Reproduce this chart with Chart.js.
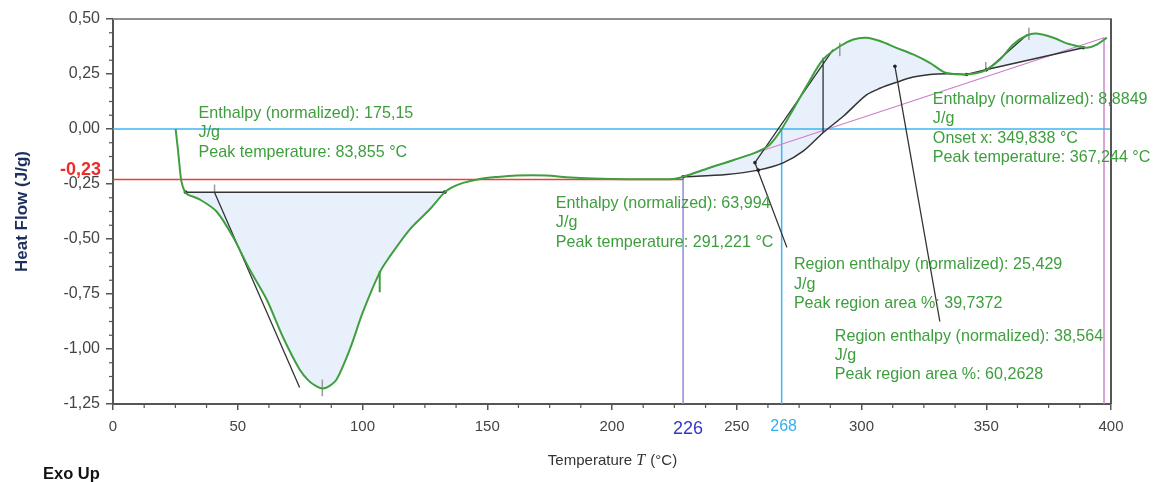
<!DOCTYPE html>
<html><head><meta charset="utf-8">
<script src="https://cdn.jsdelivr.net/npm/chart.js@4.4.0/dist/chart.umd.min.js"></script>
<style>html,body{margin:0;padding:0;background:#fff;}#wrap{width:1163px;height:482px;}</style>
</head><body><div id="wrap"><canvas id="c" width="1163" height="482"></canvas></div>
<script>
// ---- DATA ----
const heatT = [25.1,25.5,26.0,26.7,27.4,28.7,30.0,34.7,41.5,48.0,54.8,61.6,68.0,74.8,78.5,81.6,84.0,86.5,89.6,94.9,100.1,106.9,110.9,118.9,126.9,133.0,136.5,140.3,147.0,153.7,161.7,173.7,181.8,192.4,207.1,224.5,228.5,239.2,248.5,257.9,263.3,268.0,272.6,278.0,284.6,291.3,296.7,302.0,307.4,314.0,320.7,327.4,331.4,334.1,342.1,347.5,350.2,355.5,360.8,366.2,370.2,376.9,382.3,387.6,390.3,394.3,398.3];
const heatV = [0.0,-0.04,-0.09,-0.17,-0.237,-0.283,-0.298,-0.32,-0.375,-0.489,-0.639,-0.775,-0.943,-1.093,-1.145,-1.170,-1.18,-1.17,-1.139,-1.002,-0.834,-0.652,-0.58,-0.457,-0.366,-0.287,-0.262,-0.245,-0.227,-0.218,-0.211,-0.211,-0.219,-0.225,-0.228,-0.227,-0.217,-0.176,-0.142,-0.105,-0.07,0.0,0.089,0.195,0.316,0.376,0.407,0.415,0.40,0.369,0.339,0.301,0.27,0.255,0.248,0.258,0.27,0.316,0.384,0.425,0.434,0.415,0.389,0.374,0.369,0.384,0.415];
const peak1BaseT = [29.1, 133.0];
const peak1BaseV = [-0.287, -0.287];
const sigBaseT = [228.5,245.9,258.6,268.6,276.6,284.6,292.7,302.0,307.4,314.0,320.7,327.4,334.1,342.1];
const sigBaseV = [-0.217,-0.207,-0.187,-0.154,-0.101,-0.017,0.058,0.155,0.185,0.212,0.236,0.248,0.251,0.248];
const linBaseT = [342.1,350.2,388.9];
const linBaseV = [0.248,0.27,0.369];
const purpleT = [228.5, 397.2];
const purpleV = [-0.217, 0.415];
const refZeroV = 0;
const refRedV = -0.23;
const refRedEndT = 228.5;
const markerT = [228.5, 268.0, 397.2];
const markerTopV = [-0.217, 0.0, 0.415];
const markerLabels = ['226', '268', ''];
const segX1 = [40.7, 257.3, 257.3, 284.6, 313.4, 349.8, 106.9];
const segY1 = [-0.289, -0.153, -0.153, 0.324, 0.285, 0.262, -0.646];
const segX2 = [74.8, 288.6, 270.1, 284.6, 331.4, 366.5, 106.9];
const segY2 = [-1.175, 0.361, -0.538, -0.017, -0.875, 0.43, -0.742];
const segColorKind = ['k','k','k','k','k','k','g'];
const peakTickT = [83.9, 40.7, 291.3, 367.1, 349.8];
const peakTickTop = [-1.139, -0.252, 0.392, 0.46, 0.304];
const peakTickBot = [-1.215, -0.29, 0.331, 0.404, 0.267];
const dotT = [29.1, 133.0, 228.5, 258.6, 342.1, 350.2, 388.9, 313.4, 257.3];
const dotV = [-0.287, -0.287, -0.217, -0.187, 0.248, 0.27, 0.369, 0.285, -0.153];
const xTickValues = [0, 50, 100, 150, 200, 250, 300, 350, 400];
const yTickValues = [-1.25, -1.0, -0.75, -0.5, -0.25, 0.0, 0.25, 0.5];
const refLabel = '-0,23';
const annotationTexts = [
  ['Enthalpy (normalized): 175,15', 'J/g', 'Peak temperature: 83,855 °C'],
  ['Enthalpy (normalized): 63,994', 'J/g', 'Peak temperature: 291,221 °C'],
  ['Region enthalpy (normalized): 25,429', 'J/g', 'Peak region area %: 39,7372'],
  ['Region enthalpy (normalized): 38,564', 'J/g', 'Peak region area %: 60,2628'],
  ['Enthalpy (normalized): 8,8849', 'J/g', 'Onset x: 349,838 °C', 'Peak temperature: 367,244 °C']
];
const annotationAnchorT = [34.3, 177.5, 272.9, 289.3, 328.6];
const annotationAnchorV = [0.0705, -0.339, -0.618, -0.943, 0.134];

// ---- helpers ----
const P = (ts, vs) => ts.map((t, i) => ({x: t, y: vs[i]}));
const curvePts = P(heatT, heatV);
const fill1 = [{x: peak1BaseT[0], y: peak1BaseV[0]}, ...curvePts.filter(p => p.x > peak1BaseT[0] && p.x < peak1BaseT[1]), {x: peak1BaseT[1], y: peak1BaseV[1]}];
const sigPts = P(sigBaseT, sigBaseV);
const fill2 = [...curvePts.filter(p => p.x >= sigBaseT[0] && p.x <= sigBaseT[sigBaseT.length - 1]), ...sigPts.slice().reverse()];
const linPts = P(linBaseT, linBaseV);
const fill3 = [...curvePts.filter(p => p.x >= linBaseT[1] && p.x < linBaseT[2]), linPts[2], linPts[1]];

const segData = kind => {
  const out = [];
  segX1.forEach((x, i) => { if (segColorKind[i] === kind) { out.push({x, y: segY1[i]}, {x: segX2[i], y: segY2[i]}, {x: segX2[i], y: null}); } });
  return out;
};
const tickData = [];
peakTickT.forEach((t, i) => tickData.push({x: t, y: peakTickTop[i]}, {x: t, y: peakTickBot[i]}, {x: t, y: null}));
const vertData = [];
markerT.forEach((t, i) => vertData.push({x: t, y: -1.25}, {x: t, y: markerTopV[i]}, {x: t, y: null}));

const FILL = 'rgba(214,230,248,0.55)';
const ds = (data, color, width, order, extra) => Object.assign({data, borderColor: color, borderWidth: width, pointRadius: 0, fill: false, order, tension: 0, spanGaps: false}, extra || {});

const datasets = [
  ds(curvePts, '#3f9f3f', 2, 1, {tension: 0.3}),
  ds(segData('g'), '#3f9f3f', 2, 2),
  ds(P(peak1BaseT, peak1BaseV), '#333', 1.5, 3),
  ds(sigPts, '#333', 1.5, 3, {tension: 0.3}),
  ds(linPts, '#333', 1.5, 3),
  ds(segData('k'), '#333', 1.3, 3),
  ds(tickData, '#9a9a9a', 1.5, 4),
  ds(P(dotT, dotV), '#222', 0, 2, {showLine: false, pointRadius: 1.8, pointBackgroundColor: '#222', pointBorderWidth: 0}),
  ds(P(purpleT, purpleV), '#cc7fcc', 1.2, 5),
  ds([{x: 0, y: refZeroV}, {x: 400, y: refZeroV}], '#3db6ef', 1.5, 6),
  ds([{x: 0, y: refRedV}, {x: refRedEndT, y: refRedV}], '#ee3c3c', 1.5, 6),
  ds(vertData.slice(0, 3), '#8d8de0', 1.5, 6),
  ds(vertData.slice(3, 6), '#3db6ef', 1.5, 6),
  ds(vertData.slice(6, 9), '#cc88cc', 1.5, 6),
  ds(fill1, 'rgba(0,0,0,0)', 0, 10, {fill: 'shape', backgroundColor: FILL, tension: 0.3}),
  ds(fill2, 'rgba(0,0,0,0)', 0, 10, {fill: 'shape', backgroundColor: FILL, tension: 0.3}),
  ds(fill3, 'rgba(0,0,0,0)', 0, 10, {fill: 'shape', backgroundColor: FILL, tension: 0.3})
];

const FONT = 'Liberation Sans, Arial, sans-serif';
const decor = {
  id: 'decor',
  afterDraw(chart) {
    const {ctx, chartArea: a, scales: {x, y}} = chart;
    ctx.save();
    // top & right frame
    ctx.lineWidth = 2;
    ctx.strokeStyle = '#8f8f8f';
    ctx.beginPath(); ctx.moveTo(a.left, a.top); ctx.lineTo(a.right + 1, a.top); ctx.stroke();
    ctx.strokeStyle = '#555';
    ctx.beginPath(); ctx.moveTo(a.right, a.top); ctx.lineTo(a.right, a.bottom); ctx.stroke();
    // minor ticks
    ctx.strokeStyle = '#555'; ctx.lineWidth = 1.2;
    for (let v = 0; v <= 400; v += 12.5) {
      if (v % 50 === 0) continue;
      const px = x.getPixelForValue(v);
      ctx.beginPath(); ctx.moveTo(px, a.bottom); ctx.lineTo(px, a.bottom + 4); ctx.stroke();
    }
    for (let v = -1.25; v <= 0.5001; v += 0.0625) {
      if (Math.abs(v / 0.25 - Math.round(v / 0.25)) < 1e-6) continue;
      const py = y.getPixelForValue(v);
      ctx.beginPath(); ctx.moveTo(a.left, py); ctx.lineTo(a.left - 4, py); ctx.stroke();
    }
    // special x labels
    ctx.textBaseline = 'middle'; ctx.textAlign = 'center';
    ctx.fillStyle = '#3535cc'; ctx.font = '18px ' + FONT;
    ctx.fillText(markerLabels[0], x.getPixelForValue(markerT[0]) + 5, a.bottom + 25);
    ctx.fillStyle = '#36aeee'; ctx.font = '16px ' + FONT;
    ctx.fillText(markerLabels[1], x.getPixelForValue(markerT[1]) + 2, a.bottom + 23);
    // red reference label
    ctx.textAlign = 'right'; ctx.fillStyle = '#ee2a2a'; ctx.font = 'bold 18px ' + FONT;
    ctx.fillText(refLabel, a.left - 12, y.getPixelForValue(refRedV) - 10);
    // annotations
    ctx.textAlign = 'left'; ctx.fillStyle = '#3d9e3d'; ctx.font = '16.1px ' + FONT;
    annotationTexts.forEach((lines, i) => {
      const px = x.getPixelForValue(annotationAnchorT[i]);
      const py = y.getPixelForValue(annotationAnchorV[i]);
      lines.forEach((s, j) => ctx.fillText(s, px, py + j * 19.3));
    });
    // x title with italic T
    const cx = (a.left + a.right) / 2, ty = 461;
    const f1 = '15px ' + FONT, f2 = 'italic 16px Liberation Serif, serif';
    const p1 = 'Temperature ', p2 = 'T', p3 = ' (°C)';
    ctx.font = f1; const w1 = ctx.measureText(p1).width, w3 = ctx.measureText(p3).width;
    ctx.font = f2; const w2 = ctx.measureText(p2).width;
    let sx = cx - (w1 + w2 + w3) / 2;
    ctx.fillStyle = '#333';
    ctx.font = f1; ctx.fillText(p1, sx, ty);
    ctx.font = f2; ctx.fillText(p2, sx + w1, ty);
    ctx.font = f1; ctx.fillText(p3, sx + w1 + w2 + 1, ty);
    // Exo Up
    ctx.fillStyle = '#111'; ctx.font = 'bold 16.5px ' + FONT;
    ctx.fillText('Exo Up', 43, 474);
    ctx.restore();
  }
};

new Chart(document.getElementById('c'), {
  type: 'line',
  data: {datasets},
  options: {
    responsive: false, animation: false, devicePixelRatio: 1,
    layout: {padding: {left: 0, top: 19, right: 52, bottom: 0}},
    plugins: {legend: {display: false}, tooltip: {enabled: false}},
    scales: {
      x: {
        type: 'linear', min: 0, max: 400,
        afterFit: s => { s.height = 78; },
        afterBuildTicks: s => { s.ticks = xTickValues.map(v => ({value: v})); },
        ticks: {callback: v => String(v), color: '#444', font: {family: FONT, size: 15}, padding: 8, maxRotation: 0, autoSkip: false},
        grid: {drawOnChartArea: false, drawTicks: true, tickLength: 6, color: '#555', lineWidth: 1.5},
        border: {display: true, color: '#555', width: 2}
      },
      y: {
        type: 'linear', min: -1.25, max: 0.5,
        afterFit: s => { s.width = 113; },
        afterBuildTicks: s => { s.ticks = yTickValues.map(v => ({value: v})); },
        ticks: {callback: v => Number(v).toFixed(2).replace('.', ','), color: '#444', font: {family: FONT, size: 16}, padding: 6, autoSkip: false},
        grid: {drawOnChartArea: false, drawTicks: true, tickLength: 7, color: '#555', lineWidth: 1.5},
        border: {display: true, color: '#555', width: 2},
        title: {display: true, text: 'Heat Flow (J/g)', color: '#1c2f5e', font: {family: FONT, size: 17, weight: 'bold'}, padding: {top: 12, bottom: 0}}
      }
    }
  },
  plugins: [decor]
});
</script>
</body></html>
